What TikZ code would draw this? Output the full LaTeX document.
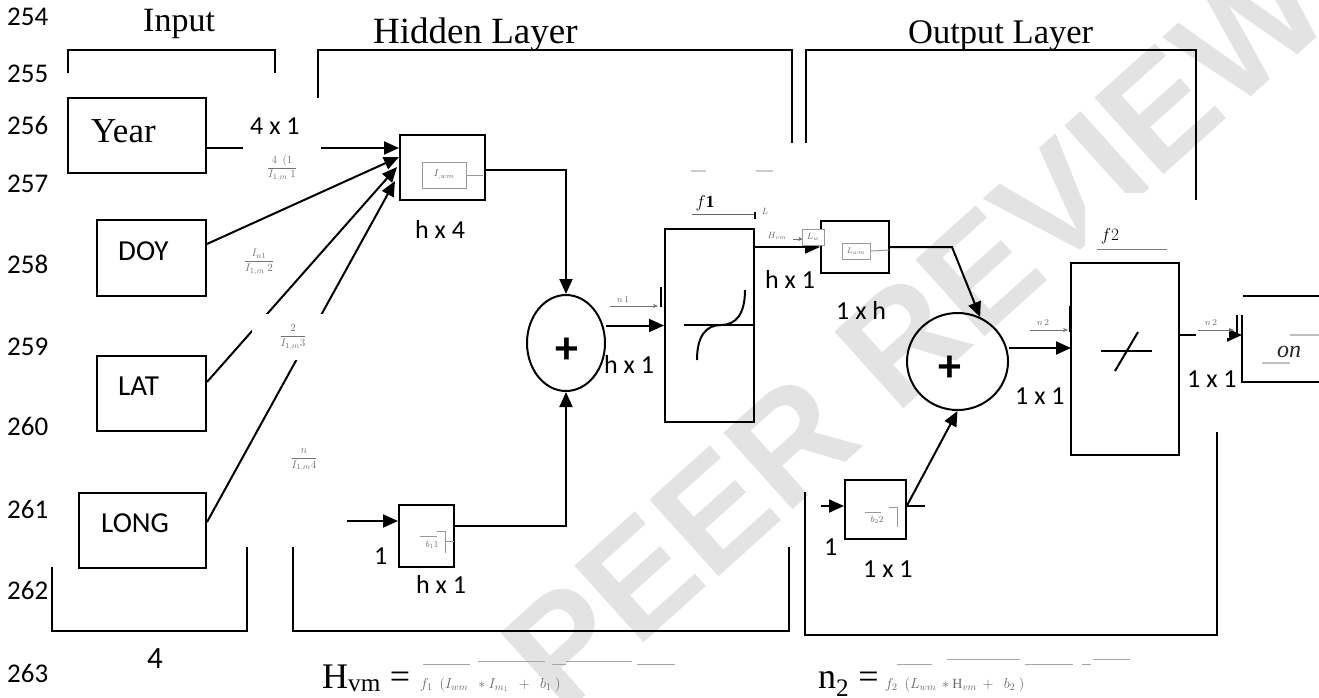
\documentclass[tikz,border=0pt]{standalone}
\usepackage{amsmath}
\usepackage{fontspec}
\setmainfont{Liberation Serif}
\newfontfamily\carlito{Carlito}
\newfontfamily\wmfont{Liberation Sans}
\usetikzlibrary{arrows.meta,calc,shapes.geometric}
\newcommand\fsz[1]{\fontsize{#1}{#1}\selectfont}
\begin{document}
\begin{tikzpicture}[x=1pt,y=-1pt,
  every node/.style={inner sep=0pt},
  ln/.style={line width=2pt},
  bx/.style={draw, line width=2pt, rectangle, inner sep=0pt},
  sm/.style={draw, line width=2pt, ellipse, inner sep=0pt},
  arr/.style={line width=2pt, -{Triangle[length=15pt,width=13pt]}},
  num/.style={font=\carlito\fsz{27}, anchor=base west},
  dimlab/.style={font=\carlito\fsz{26}, anchor=base west},
  inp/.style={font=\carlito\fsz{29}, anchor=base west},
  ttl/.style={anchor=base west},
  gar/.style={fill=white, text=black!55, font=\fsz{11}, inner sep=2pt},
  gtx/.style={text=black!60, font=\fsz{10}},
  gbox/.style={draw=black!40, line width=1pt, text=black!60, font=\fsz{10}, fill=white},
  gry/.style={draw=black!40, line width=1pt},
  garr/.style={draw=black!55, line width=1pt, -{Stealth[length=5pt,width=4pt]}},
  tick/.style={line width=1.6pt},
]
\useasboundingbox (0,0) rectangle (1319,697);
\fill[white] (0,0) rectangle (1319,697);

% watermark behind everything
\begin{scope}
  \clip (0,0) rectangle (1319,697);
  \node[rotate=42, text=black!11, font=\wmfont\bfseries\fsz{150}] (wm) at (915,330) {PEER REVIEW};
\end{scope}

% line numbers
\foreach \n/\y in {254/25,255/82,256/134,257/192,258/273,259/355,260/435,261/518,262/599,263/682}
  \node[num] (ln\n) at (7,\y) {\n};

% titles
\node[ttl, font=\fsz{34}] (tin) at (143,31) {Input};
\node[ttl, font=\fsz{37}] (thid) at (373,43) {Hidden Layer};
\node[ttl, font=\fsz{34.5}] (tout) at (908,43) {Output Layer};

% brackets
\draw[ln] (68,73) -- (68,50) -- (275,50) -- (275,73);
\draw[ln] (52,567) -- (52,631) -- (247,631) -- (247,547);
\draw[ln] (318,98) -- (318,50) -- (792,50) -- (792,143);
\draw[ln] (293,547) -- (293,631) -- (789,631) -- (789,547);
\draw[ln] (806,143) -- (806,50) -- (1196,50) -- (1196,200);
\draw[ln] (805,492) -- (805,635) -- (1217,635) -- (1217,432);
\node[font=\carlito\fsz{31}, anchor=base west] (four) at (147,668) {4};

% input boxes
\node[bx, minimum width=138pt, minimum height=75pt] (year) at (137,135.5) {};
\node[anchor=base west, font=\fsz{35}] (tyear) at (91,142) {Year};
\node[bx, minimum width=109pt, minimum height=76pt] (doy) at (151.5,258) {};
\node[inp] (tdoy) at (118,260) {DOY};
\node[bx, minimum width=109pt, minimum height=75pt] (lat) at (151.5,393.5) {};
\node[inp] (tlat) at (118,395) {LAT};
\node[bx, minimum width=127pt, minimum height=75pt] (long) at (142.5,530.5) {};
\node[inp] (tlong) at (101,532) {LONG};

% hidden layer blocks
\node[bx, minimum width=85pt, minimum height=65pt] (iwm) at (442.5,167.5) {};
\node[sm, minimum width=78pt, minimum height=96pt] (sum1) at (566,343) {};
\node[font=\carlito\bfseries\fsz{46}] (p1) at (567,351) {+};
\node[bx, minimum width=89pt, minimum height=193pt] (f1) at (709.5,325.5) {};
\draw[ln] (684,325) -- (754,325);
\draw[ln] (697,360) .. controls (697,336) and (706,325) .. (721,325)
                    .. controls (736,325) and (745,314) .. (745,290);
\node[bx, minimum width=55pt, minimum height=62pt] (b1) at (426.5,536) {};

% output layer blocks
\node[bx, minimum width=68pt, minimum height=52pt] (lwm) at (855,247) {};
\node[sm, minimum width=101pt, minimum height=97pt] (sum2) at (957.5,361.5) {};
\node[font=\carlito\bfseries\fsz{46}] (p2) at (950,369) {+};
\node[bx, minimum width=108pt, minimum height=192pt] (f2) at (1125,359) {};
\draw[ln] (1101,351) -- (1152,351);
\draw[ln] (1115,371) -- (1138,332);
\node[bx, minimum width=61pt, minimum height=59pt] (b2) at (875.5,509.5) {};
\draw[ln] (1243,296) -- (1319,296);
\draw[ln] (1242,315) -- (1242,382) -- (1319,382);

% input connectors
\coordinate (w1) at ($(iwm.north west)+(0,14)$);
\coordinate (w2) at ($(iwm.north west)+(0,23)$);
\coordinate (w3) at ($(iwm.north west)+(-2,33)$);
\coordinate (w4) at ($(iwm.north west)+(-4,47)$);
\draw[arr] (year.east |- w1) -- (w1);
\draw[arr] ($(doy.north east)!0.32!(doy.south east)$) -- (w2);
\draw[arr] ($(lat.north east)!0.35!(lat.south east)$) -- (w3);
\draw[arr] ($(long.north east)!0.39!(long.south east)$) -- (w4);

% hidden layer connectors
\draw[arr] ($(iwm.east)+(0,2)$) -| (sum1.north);
\draw[arr] ($(b1.east)+(0,-10)$) -| (sum1.south);
\coordinate (b1in) at (347,521);
\draw[arr] (b1in) -- (b1in -| b1.west);
\draw[arr] (sum1.east |- f1.west) -- (f1.west);

% output layer connectors
\draw[arr] (f1.east |- lwm.west) -- (lwm.west);
\coordinate (k2) at (952,247);
\draw[arr] (lwm.east) -- (k2) -- (sum2.63);
\coordinate (f2in) at (1071,348);
\draw[arr] (sum2.east |- f2in) -- (f2in);
\coordinate (b2in) at (821,506);
\draw[arr] (b2in) -- (b2in -| b2.west);
\draw[arr] ($(b2.east)+(0,-4)$) -- (sum2.south);
\coordinate (b2s) at (925,505.5);
\draw[ln] ($(b2.east)+(0,-4)$) -- (b2s);
\coordinate (oin) at (1242,335);
\draw[arr] (f2.east |- oin) -- (oin);

% size labels
\node[dimlab] (d1) at (250,134) {4 x 1};
\node[dimlab] (d2) at (415,238) {h x 4};
\node[dimlab] (d3) at (416,593) {h x 1};
\node[dimlab] (d4) at (374,564) {1};
\node[dimlab] (d5) at (604,373) {h x 1};
\node[dimlab] (d6) at (765,288) {h x 1};
\node[dimlab] (d7) at (836,319) {1 x h};
\node[dimlab] (d8) at (1015,404) {1 x 1};
\node[dimlab] (d9) at (1187,387) {1 x 1};
\node[dimlab] (d10) at (824,555) {1};
\node[dimlab] (d11) at (863,577) {1 x 1};

% weight labels on the input lines
\node[gar, minimum width=78pt, minimum height=44pt] (g1) at (282,168) {$\dfrac{4\ \ (1}{I_{1,m}\ 1}$};
\node[gar, minimum width=66pt, minimum height=42pt] (g2) at (259,262) {$\dfrac{I_{n1}}{I_{1,m}\ 2}$};
\node[gar, minimum width=82pt, minimum height=46pt] (g3) at (293,337) {$\dfrac{2}{I_{1,m}3}$};
\node[gar, minimum width=82pt, minimum height=40pt] (g4) at (304,460) {$\dfrac{n}{I_{1,m}4}$};

% labels inside the blocks
\node[gbox, minimum width=44pt, minimum height=26pt] (giw) at (444,175) {$I_{,wm}$};
\draw[gry] (giw.east) -- (483,175);
\node[gtx, font=\fsz{9}] (gb1) at (432,545) {$b_{1}1$};
\draw[gry] (420,536) -- (437,536);
\draw[gry] (437,531) -- (445,531) -- (445,553);
\draw[gry] (445,541) -- (454,541);
\node[gbox, minimum width=28pt, minimum height=16pt, font=\fsz{8}] (glw) at (856,251) {$L_{wm}$};
\draw[gry] (glw.east) -- (889,250);
\node[gtx, font=\fsz{9}] (gb2) at (877,520) {$b_{2}2$};
\draw[gry] (865,512) -- (881,512);
\draw[gry] (889,507) -- (897,507) -- (897,527);

% signal labels
\node[gtx, font=\fsz{9}] (gn1) at (623,300) {$n\,1$};
\draw[garr] (610,306) -- (658,306);
\draw[tick] (661,287) -- (661,307);

\fill[white] (690,166) rectangle (774,220);
\draw[black!20, line width=2pt] (691,171) -- (706,171) (756,171) -- (773,171);
\node[font=\fsz{17}] (gf1) at (705,203) {$f\mathbf{1}$};
\draw[black!60, line width=1pt] (692,214) -- (755,214);
\draw[tick] (755,212) -- (755,219);
\node[gtx, font=\fsz{9}] (gl1) at (765,211) {$L$};

\node[gtx, font=\fsz{9}] (ghv) at (777,236) {$H_{vm}$};
\draw[garr] (793,239) -- (803,239);
\node[gbox, minimum width=22pt, minimum height=16pt, font=\fsz{9}] (gl2) at (813,237) {$L_{w}$};

\node[gtx, font=\fsz{9}] (gn2a) at (1043,323) {$n\,2$};
\draw[garr] (1030,330) -- (1068,330);
\draw[tick] (1070,306) -- (1070,332);

\fill[white] (1085,193) rectangle (1167,251);
\node[font=\fsz{17}] (gf2) at (1110,236) {$f2$};
\draw[black!50, line width=1pt] (1097,249) -- (1167,249);

\fill[white] (1196,304) rectangle (1229,338);
\node[gtx, font=\fsz{9}] (gn2b) at (1211,323) {$n\,2$};
\draw[garr] (1198,330) -- (1234,330);
\draw[tick] (1237,315) -- (1237,335);

\draw[black!25, line width=2pt] (1290,335) -- (1319,335) (1262,363) -- (1290,363);
\node[font=\fsz{24}\itshape, text=black!85] (gon) at (1289,352) {on};

% formulas
\node[anchor=base west, font=\fsz{36}] (fh) at (322,688) {H\textsubscript{vm} =};
\node[anchor=base west, gtx, font=\fsz{14}] (fhr) at (420,688) {$f_1\ \ (I_{wm}\ \ *I_{m_1}\ \ +\ \ b_1\ )$};
\draw[black!35, line width=1pt] (423,664) -- (470,664) (478,661) -- (545,661) (552,664) -- (566,664) (566,661) -- (632,661) (637,664) -- (675,664);
\node[anchor=base west, font=\fsz{36}] (fn) at (818,688) {n\textsubscript{2} =};
\node[anchor=base west, gtx, font=\fsz{14}] (fnr) at (885,688) {$f_2\ \ (L_{wm}\,*\mathrm{H}_{vm}\,+\ \ b_2\ )$};
\draw[black!35, line width=1pt] (897,664) -- (932,664) (947,659) -- (1020,659) (1025,664) -- (1073,664) (1082,664) -- (1091,664) (1093,659) -- (1130,659);
\end{tikzpicture}
\end{document}
